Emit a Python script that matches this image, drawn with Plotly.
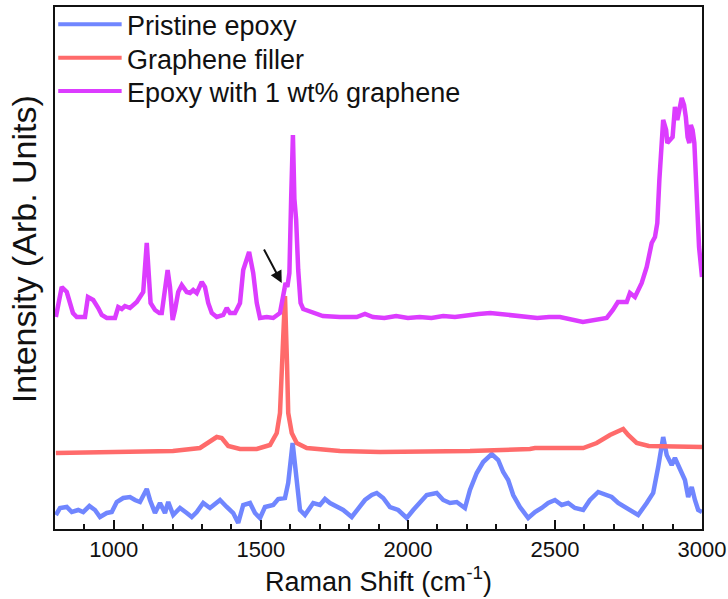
import plotly.graph_objects as go

# ---- data (Raman shift in cm^-1, intensity in arbitrary units) ----
pristine_x = [803, 817, 840, 857, 879, 896, 917, 936, 953, 976, 993, 1010, 1032, 1055, 1072, 1089,
              1112, 1123, 1140, 1157, 1174, 1185, 1202, 1225, 1248, 1265, 1282, 1304, 1327, 1361,
              1384, 1406, 1423, 1440, 1463, 1480, 1497, 1514, 1542, 1559, 1582, 1593, 1608, 1622,
              1633, 1650, 1678, 1701, 1718, 1735, 1758, 1780, 1809, 1831, 1854, 1877, 1894, 1916,
              1939, 1967, 1996, 2018, 2041, 2064, 2098, 2120, 2143, 2166, 2194, 2211, 2234, 2256,
              2285, 2307, 2324, 2341, 2358, 2381, 2409, 2432, 2455, 2477, 2500, 2523, 2545, 2568,
              2596, 2619, 2647, 2670, 2693, 2715, 2738, 2766, 2783, 2812, 2834, 2851, 2868, 2880,
              2897, 2908, 2925, 2942, 2953, 2965, 2976, 2987, 3000]
pristine_y = [14, 21, 22, 17, 19, 17, 23, 19, 12, 16, 17, 27, 31, 32, 29, 27,
              40, 29, 16, 26, 16, 27, 14, 21, 16, 12, 17, 26, 21, 29,
              22, 16, 6, 24, 26, 16, 11, 22, 24, 30, 31, 46, 86, 42,
              19, 14, 26, 24, 30, 26, 22, 19, 12, 21, 29, 34, 36, 31,
              22, 19, 11, 19, 26, 34, 36, 29, 26, 27, 21, 39, 56, 67,
              75, 69, 57, 49, 34, 22, 11, 17, 21, 26, 29, 24, 26, 21,
              19, 29, 37, 34, 32, 26, 22, 16, 14, 26, 36, 62, 92, 74,
              64, 71, 59, 49, 32, 42, 29, 19, 17]

filler_x = [803, 976, 1201, 1293, 1327, 1350, 1367, 1389, 1429, 1486, 1531, 1554, 1565, 1575,
            1582, 1589, 1593, 1605, 1622, 1656, 1769, 1905, 2211, 2415, 2432, 2596, 2642, 2687,
            2732, 2749, 2778, 2819, 3000]
filler_y = [76, 77, 78, 81, 87, 92, 91, 83, 80, 80, 84, 96, 116, 175,
            233, 165, 116, 96, 86, 81, 78, 77, 78, 80, 81, 81, 86, 94,
            100, 94, 86, 83, 82]

composite_x = [803, 823, 840, 861, 874, 902, 912, 930, 947, 959, 976, 1004, 1015, 1027, 1038, 1055,
               1078, 1089, 1100, 1112, 1120, 1125, 1140, 1155, 1163, 1171, 1183, 1191, 1200, 1208,
               1219, 1231, 1248, 1259, 1270, 1282, 1299, 1310, 1321, 1333, 1350, 1372, 1384, 1395,
               1412, 1429, 1440, 1460, 1474, 1486, 1497, 1520, 1542, 1565, 1576, 1584, 1590, 1597,
               1603, 1609, 1614, 1620, 1627, 1635, 1644, 1678, 1711, 1769, 1826, 1854, 1881, 1920,
               1960, 2000, 2040, 2080, 2120, 2160, 2200, 2240, 2280, 2320, 2360, 2400, 2440, 2480,
               2517, 2595, 2676, 2697, 2714, 2744, 2755, 2772, 2795, 2812, 2829, 2840, 2848, 2855,
               2863, 2868, 2878, 2882, 2891, 2900, 2908, 2916, 2923, 2931, 2939, 2945, 2951, 2957,
               2962, 2968, 2974, 2982, 2990, 3000]
composite_y = [212, 242, 237, 216, 212, 212, 232, 229, 221, 214, 211, 211, 222, 220, 223, 221,
               227, 232, 237, 286, 256, 226, 219, 216, 216, 236, 259, 242, 209, 219,
               237, 244, 237, 236, 239, 236, 247, 242, 226, 216, 212, 214, 221, 216,
               216, 226, 259, 277, 256, 226, 211, 212, 211, 216, 232, 246, 242, 256,
               330, 394, 330, 309, 259, 226, 220, 216, 213, 212, 212, 215, 212, 211,
               213, 211, 212, 211, 213, 212, 214, 215, 216, 215, 213, 212, 211, 212,
               212, 207, 211, 219, 227, 227, 236, 232, 246, 262, 286, 292, 306, 349,
               399, 409, 399, 386, 389, 392, 422, 409, 419, 431, 424, 412, 392, 386,
               404, 399, 386, 332, 282, 252]

series_names = ["Pristine epoxy", "Graphene filler", "Epoxy with 1 wt% graphene"]
series_colors = ["#7086ff", "#ff6b6b", "#dc3cff"]

x_ticks = [1000, 1500, 2000, 2500, 3000]

# ---- figure ----
fig = go.Figure()
for name, xs, ys, col in zip(series_names,
                             [pristine_x, filler_x, composite_x],
                             [pristine_y, filler_y, composite_y],
                             series_colors):
    fig.add_trace(go.Scatter(x=xs, y=ys, mode="lines", name=name,
                             line=dict(color=col, width=4.5), showlegend=False))

# custom legend (line samples + labels) in paper coordinates
leg_top = 0.967
leg_step = 0.064
for i, (name, col) in enumerate(zip(series_names, series_colors)):
    yy = leg_top - i * leg_step
    fig.add_shape(type="line", xref="paper", yref="paper",
                  x0=0.005, x1=0.103, y0=yy, y1=yy,
                  line=dict(color=col, width=4))
    fig.add_annotation(xref="paper", yref="paper", x=0.108, y=yy - 0.004,
                       text=name, showarrow=False, xanchor="left", yanchor="middle",
                       font=dict(size=27, color="#111111"))

# y-axis title (placed as rotated text to match reference position)
fig.add_annotation(xref="paper", yref="paper", x=-0.048, y=0.536,
                   text="Intensity (Arb. Units)", textangle=-90, showarrow=False,
                   xanchor="center", yanchor="middle",
                   font=dict(size=34, color="#111111"))

# arrow pointing to the graphene G-band shoulder
fig.add_annotation(x=1571, y=246, ax=1508, ay=281, xref="x", yref="y",
                   axref="x", ayref="y", text="", showarrow=True,
                   arrowhead=2, arrowsize=1.2, arrowwidth=2, arrowcolor="#111111")

fig.update_layout(
    width=728, height=599,
    margin=dict(l=55, r=26, t=7, b=70),
    paper_bgcolor="white", plot_bgcolor="white",
    font=dict(family="Liberation Sans, Arial, sans-serif", color="#111111"),
    xaxis=dict(range=[800, 3000], tickvals=x_ticks, ticks="inside", ticklen=9,
               tickwidth=1.5, tickcolor="#111111", automargin=False,
               minor=dict(dtick=100, ticks="inside", ticklen=5, tickwidth=1.5,
                          tickcolor="#111111"),
               showline=True, linecolor="#111111", linewidth=2, mirror=True,
               showgrid=False, zeroline=False,
               tickfont=dict(size=22),
               title=dict(text="Raman Shift (cm<sup>-1</sup>)", font=dict(size=27),
                          standoff=4)),
    yaxis=dict(range=[0, 522], showticklabels=False, ticks="", automargin=False,
               showline=True, linecolor="#111111", linewidth=2, mirror=True,
               showgrid=False, zeroline=False),
)

fig.write_html("out.html")
